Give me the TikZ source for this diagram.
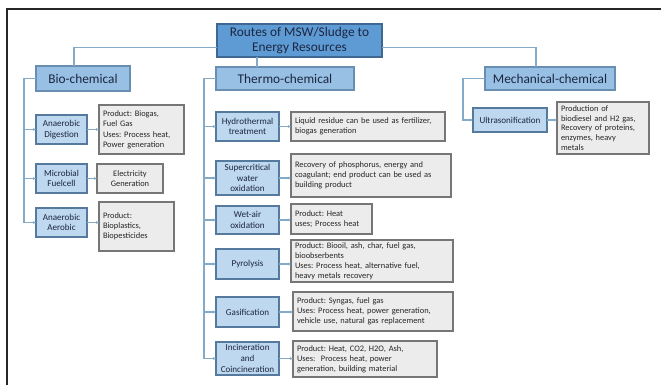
\documentclass[tikz,border=0pt]{standalone}
\usepackage{fontspec}
\setmainfont{Carlito}
\usetikzlibrary{arrows.meta}
\frenchspacing
\definecolor{rootblue}{RGB}{94,155,212}
\definecolor{rootedge}{RGB}{62,104,146}
\definecolor{midblue}{RGB}{152,192,228}
\definecolor{midedge}{RGB}{104,142,180}
\definecolor{lowblue}{RGB}{190,216,239}
\definecolor{lowedge}{RGB}{86,122,158}
\definecolor{panel}{RGB}{236,236,236}
\definecolor{panedge}{RGB}{118,118,118}
\definecolor{wire}{RGB}{132,170,202}
\definecolor{ink}{RGB}{28,38,64}

\begin{document}
\begin{tikzpicture}[x=0.75pt,y=-0.75pt,
  bx/.style 2 args={draw,line width=0.8pt,minimum width=#1*0.75pt,minimum height=#2*0.75pt,inner sep=1pt,outer sep=0pt},
  rt/.style 2 args={bx={#1}{#2},fill=rootblue,draw=rootedge,text=ink,font=\fontsize{10}{11.7}\selectfont,align=center},
  grp/.style 2 args={bx={#1}{#2},fill=midblue,draw=midedge,text=ink,font=\fontsize{10}{12}\selectfont},
  rte/.style 2 args={bx={#1}{#2},fill=lowblue,draw=lowedge,text=ink,font=\fontsize{6.8}{8}\selectfont,align=center},
  res/.style 2 args={bx={#1}{#2},fill=panel,draw=panedge,text=black!85,font=\fontsize{6.3}{7.4}\selectfont,
    text width=(#1-8)*0.75pt,inner xsep=3pt,align=left},
  ln/.style={draw=wire,line width=0.8pt},
  ar/.style={ln,-{Stealth[length=2.4pt,width=2.2pt]}},
  frm/.style={draw=black!85,line width=1.4pt}]
  \useasboundingbox (0,0) rectangle (661,385);
  \draw[frm] (7,395) -- (7,9) -- (670,9);
  % top and the three groups
  \node[rt={165}{33}] (root) at (299.5,40.5) {Routes of MSW/Sludge to\\Energy Resources};
  \node[grp={94}{25}] (bio) at (83,78.5) {Bio-chemical};
  \node[grp={138}{23}] (thermo) at (285,78.5) {Thermo-chemical};
  \node[grp={130}{23}] (mech) at (550,78.5) {Mechanical-chemical};
  \coordinate (jb) at (74,0); \coordinate (jt) at (257,0); \coordinate (jm) at (536,0);
  \coordinate (sb) at (24,0); \coordinate (st) at (204,0); \coordinate (sm) at (463,0);
  % bio-chemical routes
  \node[rte={51}{29}] (ad) at (61.5,129.5) {Anaerobic\\Digestion};
  \node[rte={51}{29}] (mf) at (61.5,178.5) {Microbial\\Fuelcell};
  \node[rte={51}{29}] (aa) at (61.5,222.5) {Anaerobic\\Aerobic};
  \node[res={85}{49}] (pb) at (141.5,129.5) {Product: Biogas,\\Fuel Gas\\[1pt]Uses: Process heat,\\Power generation};
  \node[res={66}{29},align=center] (pe) at (130,178.5) {Electricity\\Generation};
  \node[res={75}{49}] (pp) at (136.5,226.5) {Product:\\Bioplastics,\\Biopesticides\\[6pt]};
  % thermo-chemical routes
  \node[rte={63}{29}] (ht) at (247.5,126.5) {Hydrothermal\\treatment};
  \node[rte={63}{34}] (sc) at (247.5,178) {Supercritical\\water\\oxidation};
  \node[rte={63}{28}] (wa) at (247.5,220) {Wet-air\\oxidation};
  \node[rte={63}{30}] (py) at (247.5,264) {Pyrolysis};
  \node[rte={63}{30}] (gs) at (247.5,312) {Gasification};
  \node[rte={63}{33}] (ic) at (247.5,358.5) {Incineration\\and\\Coincineration};
  \node[res={154}{29}] (tl) at (368,126.5) {Liquid residue can be used as fertilizer,\\biogas generation};
  \node[res={160}{43}] (tr) at (371,175.5) {Recovery of phosphorus, energy and\\coagulant; end product can be used as\\building product};
  \node[res={81}{30}] (th) at (331.5,219) {Product: Heat\\uses; Process heat};
  \node[res={162}{42}] (tb) at (372,261) {Product: Biooil, ash, char, fuel gas,\\bioobserbents\\Uses: Process heat, alternative fuel,\\heavy metals recovery};
  \node[res={160}{39}] (ts) at (373,311.5) {Product: Syngas, fuel gas\\Uses: Process heat, power generation,\\vehicle use, natural gas replacement};
  \node[res={144}{36}] (tc) at (365,359) {Product: Heat, CO2, H2O, Ash,\\Uses:\ \ Process heat, power\\generation, building material};
  % mechanical-chemical route
  \node[rte={74}{24}] (us) at (510,120) {Ultrasonification};
  \node[res={92}{52}] (mp) at (603,128) {Production of\\biodiesel and H2 gas,\\Recovery of proteins,\\enzymes, heavy\\metals};
  % connectors
  \draw[ln] ([yshift=-5.6pt]root.west) -| (jb |- bio.north);
  \draw[ln] ([yshift=-5.6pt]root.east) -| (jm |- mech.north);
  \draw[ln] (jt |- root.south) -- (jt |- thermo.north);
  \draw[ar] (bio.west) -| (sb |- aa.west) -- (aa.west);
  \draw[ar] (thermo.west) -| (st |- ic.west) -- (ic.west);
  \draw[ar] (mech.west) -| (sm |- us.west) -- (us.west);
  \foreach \n in {ad,mf} \draw[ar] (sb |- \n.west) -- (\n.west);
  \foreach \n in {ht,sc,wa,py,gs} \draw[ar] (st |- \n.west) -- (\n.west);
  \foreach \a/\b in {ad/pb,mf/pe,aa/pp,ht/tl,sc/tr,wa/th,py/tb,gs/ts,ic/tc,us/mp}
    \draw[ar] (\a.east) -- (\a.east -| \b.west);
\end{tikzpicture}
\end{document}
